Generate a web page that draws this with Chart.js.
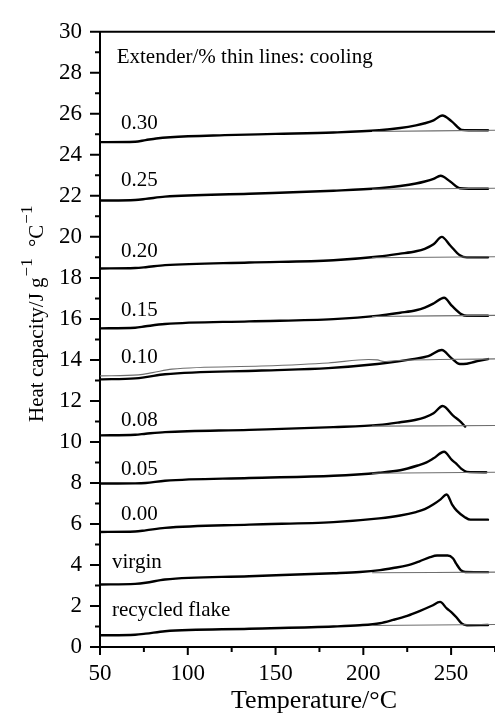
<!DOCTYPE html>
<html>
<head>
<meta charset="utf-8">
<script src="https://cdn.jsdelivr.net/npm/chart.js@4.4.1/dist/chart.umd.min.js"></script>
<style>
  html, body { margin: 0; padding: 0; background: #fff; }
  #wrap { width: 495px; height: 713px; }
</style>
</head>
<body>
<div id="wrap"><canvas id="cp" width="495" height="713"></canvas></div>
<script>
// Heating scans (thick lines): temperature (°C) and heat capacity (J g-1 °C-1, stacked offsets)
const t030  = [50, 70, 76, 82, 90, 121, 150, 183, 209, 221, 230, 235, 240, 245, 250.5, 256, 260, 271];
const cp030 = [24.62, 24.64, 24.72, 24.8, 24.86, 24.96, 25.02, 25.09, 25.2, 25.31, 25.44, 25.54, 25.68, 25.92, 25.62, 25.22, 25.2, 25.2];

const t025  = [50, 70, 76, 87, 135, 183, 209, 221, 230, 235, 240, 244, 249.5, 255, 260, 271];
const cp025 = [21.77, 21.8, 21.85, 21.96, 22.1, 22.25, 22.37, 22.48, 22.6, 22.7, 22.83, 22.98, 22.7, 22.37, 22.35, 22.35];

const t020  = [50, 70, 76, 87, 135, 183, 209, 221, 230, 235, 240, 244.7, 249.5, 255, 259, 271];
const cp020 = [18.46, 18.48, 18.52, 18.62, 18.75, 18.86, 19.04, 19.18, 19.3, 19.42, 19.64, 20.0, 19.58, 19.1, 19.0, 19.0];

const t015  = [50, 70, 76, 87, 135, 183, 209, 221, 230, 235, 240, 246, 250.5, 256, 259, 271];
const cp015 = [15.54, 15.57, 15.64, 15.75, 15.88, 15.99, 16.16, 16.3, 16.42, 16.55, 16.75, 17.03, 16.63, 16.22, 16.15, 16.15];

const t010  = [50, 70, 76, 87, 142, 180, 208, 220, 228, 237, 244.7, 250, 255, 257, 264, 271];
const cp010 = [13.05, 13.1, 13.16, 13.3, 13.48, 13.6, 13.8, 13.93, 14.04, 14.18, 14.48, 14.1, 13.8, 13.8, 13.92, 14.04];

const t008  = [50, 70, 76, 87, 135, 183, 209, 221, 230, 235, 240, 245.2, 251.3, 254.7, 258];
const cp008 = [10.32, 10.35, 10.4, 10.48, 10.59, 10.72, 10.83, 10.96, 11.08, 11.2, 11.4, 11.75, 11.27, 11.04, 10.75];

const t005  = [50, 70, 76, 87, 135, 183, 209, 221, 231, 236, 240, 246, 250.4, 253.2, 256, 259, 270];
const cp005 = [7.97, 7.98, 8.0, 8.11, 8.24, 8.35, 8.5, 8.62, 8.85, 9.0, 9.2, 9.52, 9.12, 8.92, 8.68, 8.54, 8.52];

const t000  = [50, 70, 76, 87, 135, 183, 209, 221, 230, 235, 240, 244, 247.5, 250.5, 253.2, 258, 261, 271];
const cp000 = [5.61, 5.63, 5.69, 5.81, 5.97, 6.09, 6.27, 6.41, 6.58, 6.72, 6.96, 7.2, 7.44, 6.96, 6.65, 6.32, 6.21, 6.21];

const tVirgin  = [50, 70, 76, 87, 135, 183, 198, 209.5, 217, 225, 232, 238, 242, 248, 251, 253, 255.5, 258, 271];
const cpVirgin = [3.05, 3.08, 3.13, 3.29, 3.45, 3.6, 3.66, 3.75, 3.85, 3.98, 4.18, 4.38, 4.46, 4.46, 4.33, 4.05, 3.75, 3.66, 3.65];

const tFlake  = [50, 70, 76, 87, 135, 183, 198, 209.5, 217, 225, 232, 239, 243.7, 247.5, 250.4, 253, 256, 259, 271];
const cpFlake = [0.57, 0.6, 0.65, 0.77, 0.89, 1.0, 1.06, 1.16, 1.32, 1.52, 1.75, 2.01, 2.2, 1.88, 1.68, 1.45, 1.15, 1.06, 1.07];

// Cooling scans (thin lines)
const tCool030 = [205, 275];  const cpCool030 = [25.14, 25.2];
const tCool025 = [205, 275];  const cpCool025 = [22.32, 22.37];
const tCool020 = [205, 275];  const cpCool020 = [18.98, 19.03];
const tCool015 = [205, 275];  const cpCool015 = [16.12, 16.17];
const tCool010  = [50, 72, 80, 91, 142, 180, 203, 208, 212, 216, 275];
const cpCool010 = [13.22, 13.27, 13.38, 13.55, 13.7, 13.85, 14.02, 14.0, 13.92, 13.95, 14.05];
const tCool008 = [205, 275];  const cpCool008 = [10.77, 10.8];
const tCool005 = [205, 275];  const cpCool005 = [8.47, 8.52];
const tCoolVirgin = [205, 275]; const cpCoolVirgin = [3.62, 3.65];
const tCoolFlake  = [205, 275]; const cpCoolFlake  = [1.05, 1.1];

// Curve names and the level each name is written at
const curveNames  = ['0.30', '0.25', '0.20', '0.15', '0.10', '0.08', '0.05', '0.00', 'virgin', 'recycled flake'];
const nameLevels  = [25.28, 22.46, 19.02, 16.15, 13.85, 10.8, 8.4, 6.17, 3.86, 1.49];

// Axis ticks
const xTicks = [50, 100, 150, 200, 250];
const yTicks = [0, 2, 4, 6, 8, 10, 12, 14, 16, 18, 20, 22, 24, 26, 28, 30];

const heating = [
  [t030, cp030], [t025, cp025], [t020, cp020], [t015, cp015], [t010, cp010],
  [t008, cp008], [t005, cp005], [t000, cp000], [tVirgin, cpVirgin], [tFlake, cpFlake]
];
const cooling = [
  [tCool030, cpCool030], [tCool025, cpCool025], [tCool020, cpCool020], [tCool015, cpCool015],
  [tCool010, cpCool010], [tCool008, cpCool008], [tCool005, cpCool005],
  [tCoolVirgin, cpCoolVirgin], [tCoolFlake, cpCoolFlake]
];

const SERIF = '"Liberation Serif", "Times New Roman", serif';
const pts = (t, c) => t.map((x, i) => ({ x: x, y: c[i] }));

const datasets = [];
cooling.forEach(([t, c]) => datasets.push({
  data: pts(t, c), borderColor: '#6e6e6e', borderWidth: 1.1,
  pointRadius: 0, cubicInterpolationMode: 'monotone', fill: false
}));
heating.forEach(([t, c]) => datasets.push({
  data: pts(t, c), borderColor: '#000', borderWidth: 2.4,
  pointRadius: 0, cubicInterpolationMode: 'monotone', fill: false,
  borderJoinStyle: 'round', borderCapStyle: 'round'
}));

// Frame, tick marks, axis titles, curve names and the note
const decor = {
  id: 'decor',
  afterDraw(chart) {
    const { ctx, chartArea: a, scales: { x, y } } = chart;
    ctx.save();
    ctx.strokeStyle = '#000';
    ctx.lineWidth = 2;
    ctx.beginPath();
    ctx.moveTo(a.left - 1, a.top);
    ctx.lineTo(a.right, a.top);
    for (let v = 0; v <= 30; v++) {
      const py = y.getPixelForValue(v);
      const len = v % 2 === 0 ? 10 : 5;
      ctx.moveTo(a.left - len, py);
      ctx.lineTo(a.left, py);
    }
    for (let v = 50; v <= 275; v += 25) {
      const px = x.getPixelForValue(v);
      const len = v % 50 === 0 ? 8 : 5;
      ctx.moveTo(px, a.bottom);
      ctx.lineTo(px, a.bottom + len);
    }
    ctx.stroke();

    ctx.fillStyle = '#000';
    ctx.textBaseline = 'alphabetic';
    ctx.textAlign = 'left';

    // curve names
    ctx.font = '21px ' + SERIF;
    curveNames.forEach((name, i) => {
      const tx = (name === 'virgin' || name === 'recycled flake') ? 56.8 : 62;
      ctx.fillText(name, x.getPixelForValue(tx), y.getPixelForValue(nameLevels[i]));
    });

    // note
    ctx.fillText('Extender/% thin lines: cooling', x.getPixelForValue(59.5), y.getPixelForValue(28.46));

    // x title
    ctx.font = '26px ' + SERIF;
    ctx.textAlign = 'center';
    ctx.fillText('Temperature/°C', 314, 708);

    // y title with superscripts
    ctx.save();
    ctx.translate(43, 422);
    ctx.rotate(-Math.PI / 2);
    ctx.textAlign = 'left';
    const main = '21px ' + SERIF, sup = '17px ' + SERIF;
    let cx = 0;
    const put = (txt, font, dy, gap) => {
      ctx.font = font;
      ctx.fillText(txt, cx, dy);
      cx += ctx.measureText(txt).width + (gap || 0);
    };
    put('Heat capacity/J g', main, 0, 1);
    put('\u22121', sup, -11, 6);
    put(' \u00B0C', main, 0, 1);
    put('\u22121', sup, -11);
    ctx.restore();

    ctx.restore();
  }
};

new Chart(document.getElementById('cp'), {
  type: 'line',
  data: { datasets },
  options: {
    responsive: false,
    animation: false,
    events: [],
    layout: { padding: { top: 21, right: 0, bottom: 0, left: 0 } },
    plugins: { legend: { display: false }, tooltip: { enabled: false } },
    scales: {
      x: {
        type: 'linear', min: 50, max: 275,
        afterFit: s => { s.height = 66; },
        afterBuildTicks: s => { s.ticks = xTicks.map(v => ({ value: v })); },
        ticks: { autoSkip: false, maxRotation: 0, padding: 13, color: '#000',
                 font: { family: SERIF, size: 23 } },
        grid: { display: false, drawTicks: false },
        border: { display: true, color: '#000', width: 2 }
      },
      y: {
        min: 0, max: 30,
        afterFit: s => { s.width = 100; },
        afterBuildTicks: s => { s.ticks = yTicks.map(v => ({ value: v })); },
        ticks: { autoSkip: false, padding: 18, color: '#000',
                 font: { family: SERIF, size: 23 } },
        grid: { display: false, drawTicks: false },
        border: { display: true, color: '#000', width: 2 }
      }
    }
  },
  plugins: [decor]
});
</script>
</body>
</html>
